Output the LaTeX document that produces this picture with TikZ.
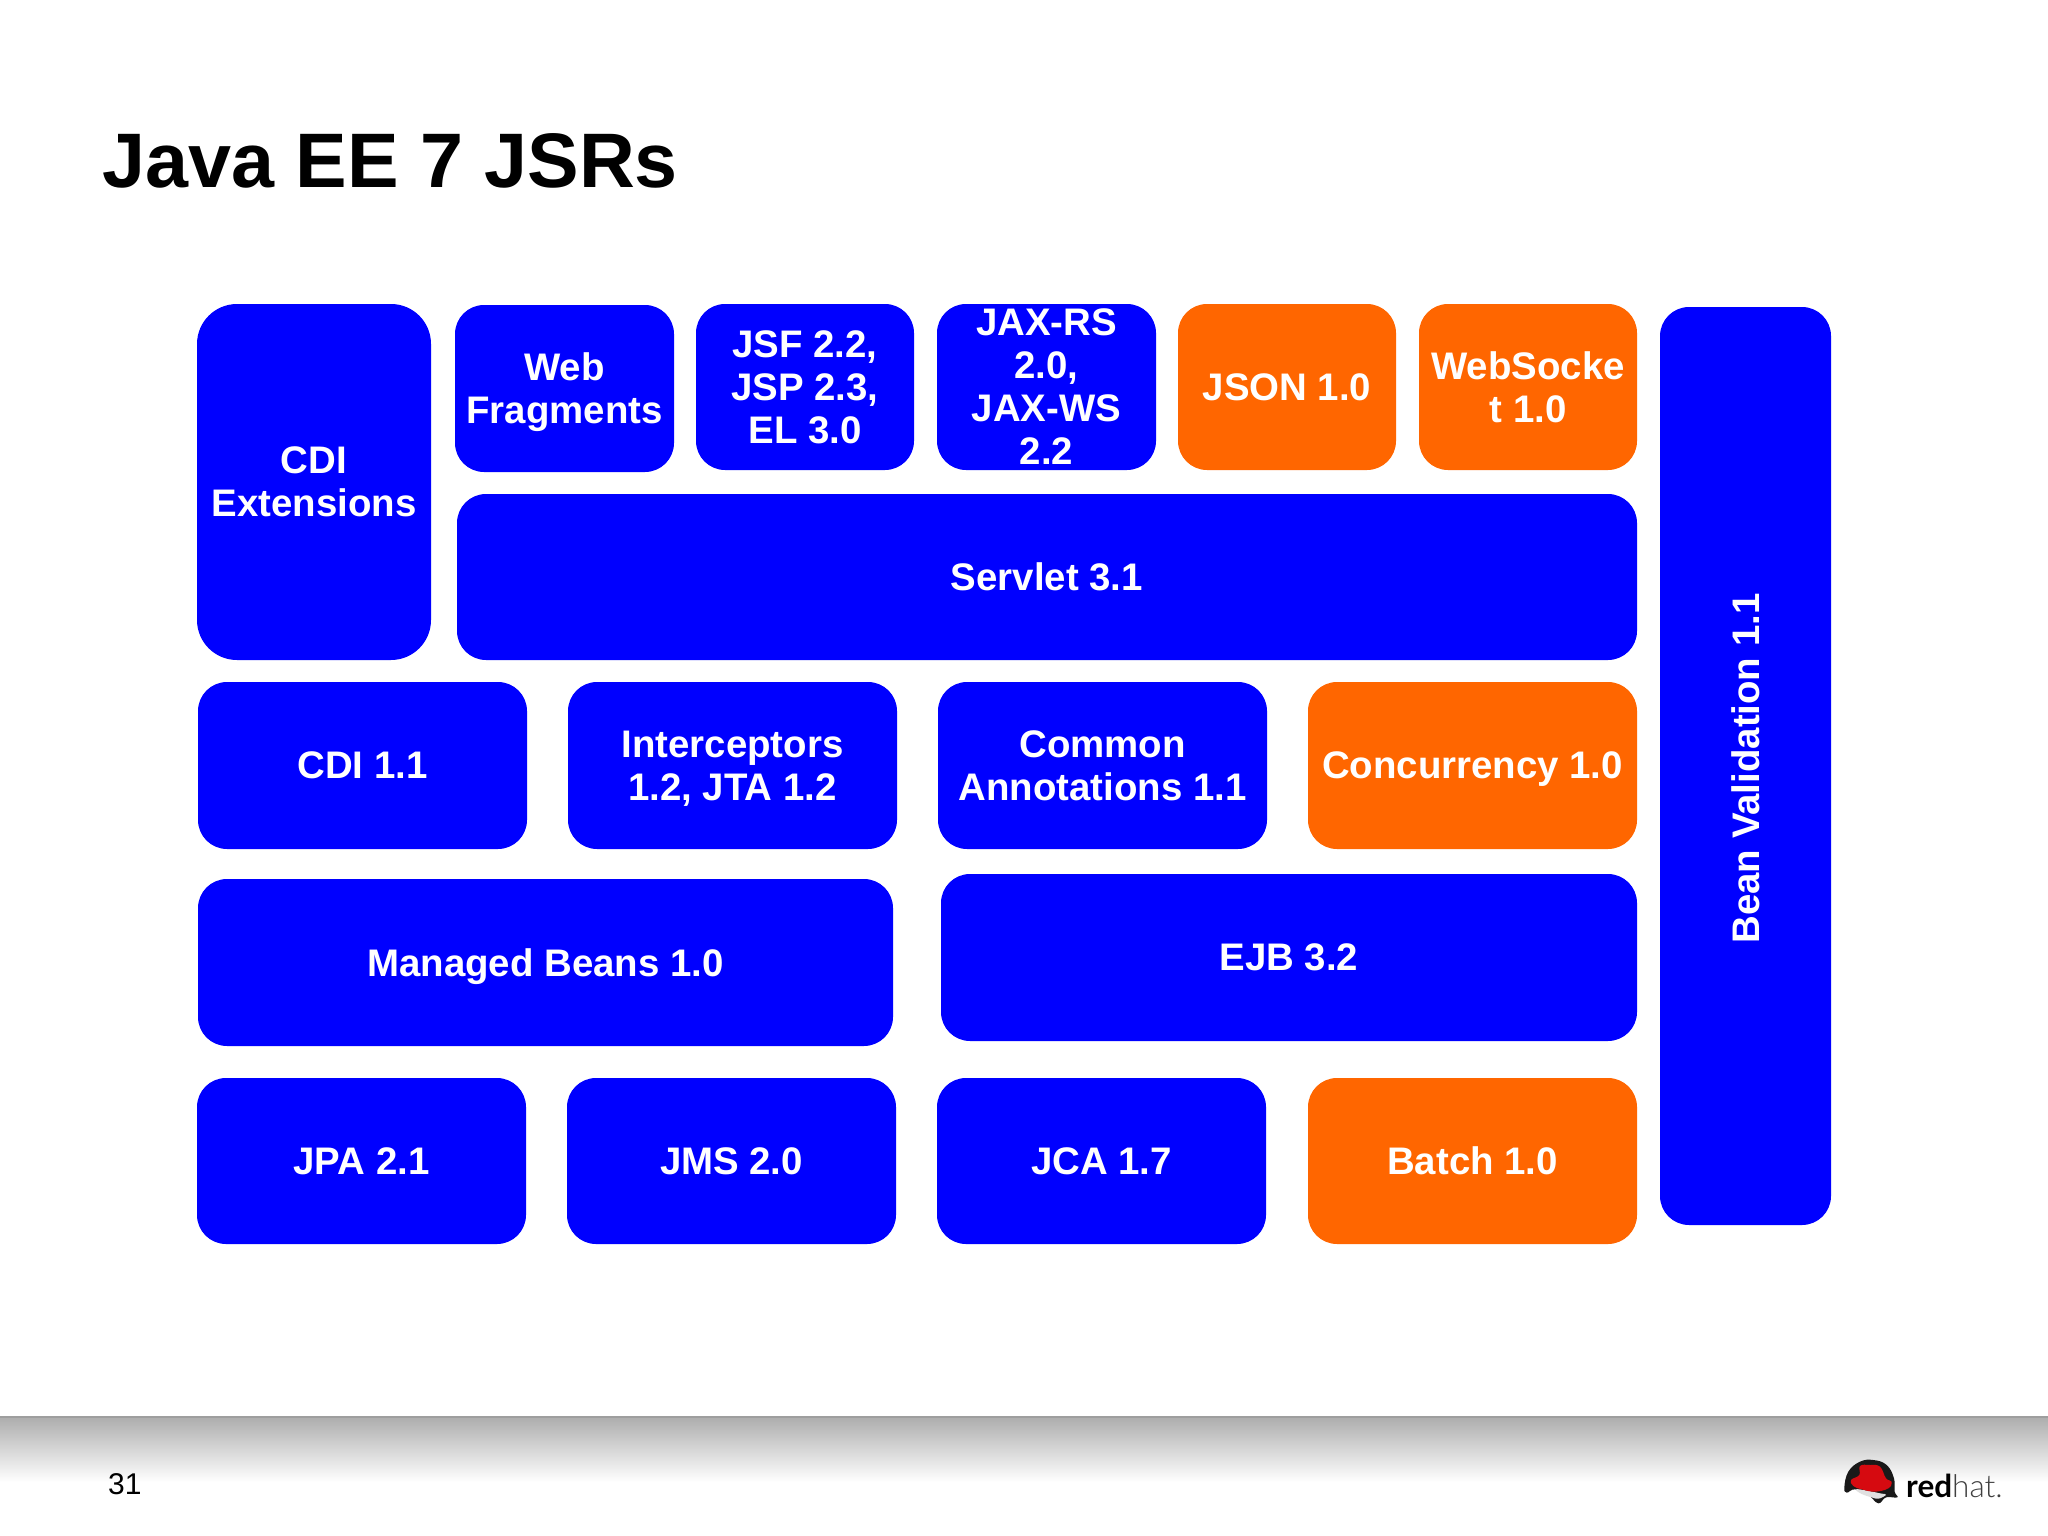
\documentclass[tikz,border=0pt]{standalone}
\usepackage{fontspec}
\setmainfont{Liberation Sans}
\newfontfamily\logolight{Lato Light}
\newfontfamily\logobold{Lato Bold}
\definecolor{jblue}{RGB}{0,0,255}
\definecolor{jorange}{RGB}{255,102,0}
\definecolor{hatred}{RGB}{214,10,16}
\tikzset{
  block/.style={fill=#1,text=white,inner sep=0pt,outer sep=0pt,align=center,rounded corners=29pt,
    text depth=0pt,font=\bfseries\fontsize{38.4}{43}\selectfont},
}
% name, x1, y1, x2, y2, colour, text
\newcommand{\blk}[8][]{%
  \pgfmathsetmacro{\cxx}{(#3+#5)/2}\pgfmathsetmacro{\cyy}{(#4+#6)/2}%
  \pgfmathsetmacro{\wdd}{#5-#3}\pgfmathsetmacro{\htt}{#6-#4}%
  \node[block=#7,minimum width=\wdd pt,minimum height=\htt pt,#1] (#2) at (\cxx,\cyy) {#8};%
}
\begin{document}
\begin{tikzpicture}[x=1pt,y=-1pt]
\useasboundingbox (0,0) rectangle (2048,1536);
\fill[white] (0,0) rectangle (2048,1536);
% footer
\shade[top color=black!32,bottom color=white] (0,1417) rectangle (2048,1482);
\fill[black!38] (0,1416) rectangle (2048,1418);
% title
\node[anchor=base west,inner sep=0pt,font=\bfseries\fontsize{77.3}{80}\selectfont] (title) at (102,187) {Java EE 7 JSRs};
\node[anchor=base west,inner sep=0pt,font=\fontsize{30}{32}\selectfont,text=black] (page) at (108,1494) {31};
% blocks
\blk[rounded corners=40pt]{cdiext}{197}{304}{431}{660}{jblue}{CDI\\Extensions}
\blk{web}{455}{305}{674}{472}{jblue}{Web\\Fragments}
\blk{jsf}{696}{304}{914}{470}{jblue}{JSF 2.2,\\JSP 2.3,\\EL 3.0}
\blk{jax}{937}{304}{1156}{470}{jblue}{JAX-RS\\2.0,\\JAX-WS\\2.2}
\blk{json}{1178}{304}{1396}{470}{jorange}{JSON 1.0}
\blk{ws}{1419}{304}{1637}{470}{jorange}{WebSocke\\t 1.0}
\blk{servlet}{457}{494}{1637}{660}{jblue}{Servlet 3.1}
\blk{cdi}{198}{682}{527}{849}{jblue}{CDI 1.1}
\blk{inter}{568}{682}{897}{849}{jblue}{Interceptors\\1.2, JTA 1.2}
\blk{common}{938}{682}{1267}{849}{jblue}{Common\\Annotations 1.1}
\blk{conc}{1308}{682}{1637}{849}{jorange}{Concurrency 1.0}
\blk{mb}{198}{879}{893}{1046}{jblue}{Managed Beans 1.0}
\blk{ejb}{941}{874}{1637}{1041}{jblue}{EJB 3.2}
\blk{jpa}{197}{1078}{526}{1244}{jblue}{JPA 2.1}
\blk{jms}{567}{1078}{896}{1244}{jblue}{JMS 2.0}
\blk{jca}{937}{1078}{1266}{1244}{jblue}{JCA 1.7}
\blk{batch}{1308}{1078}{1637}{1244}{jorange}{Batch 1.0}
\node[block=jblue,rotate=90,minimum width=918pt,minimum height=171pt] (bean) at (1745.5,766) {Bean Validation 1.1\hspace{5pt}};
% logo
\begin{scope}[xshift=1780pt,yshift=-1400pt,x=0.3333pt,y=-0.3333pt]
  \fill[black!90] plot[smooth cycle,tension=.7] coordinates {(193,262) (205,215) (240,185) (280,180) (320,195) (342,235) (344,275) (352,292) (318,292) (295,310) (265,285) (225,268) (200,278)};
  \fill[black!12] plot[smooth cycle,tension=.7] coordinates {(228,268) (262,272) (300,280) (318,284) (296,296) (275,292) (245,282)};
  \fill[hatred] plot[smooth cycle,tension=.7] coordinates {(213,240) (238,225) (240,198) (270,195) (300,200) (318,235) (335,245) (325,265) (285,275) (245,268) (220,258)};
\end{scope}
\node[anchor=base west,inner sep=0pt,font=\fontsize{31.5}{34}\selectfont] (logo) at (1906,1497) {{\logobold red}{\logolight\color{black!75}hat.}};
\end{tikzpicture}
\end{document}
